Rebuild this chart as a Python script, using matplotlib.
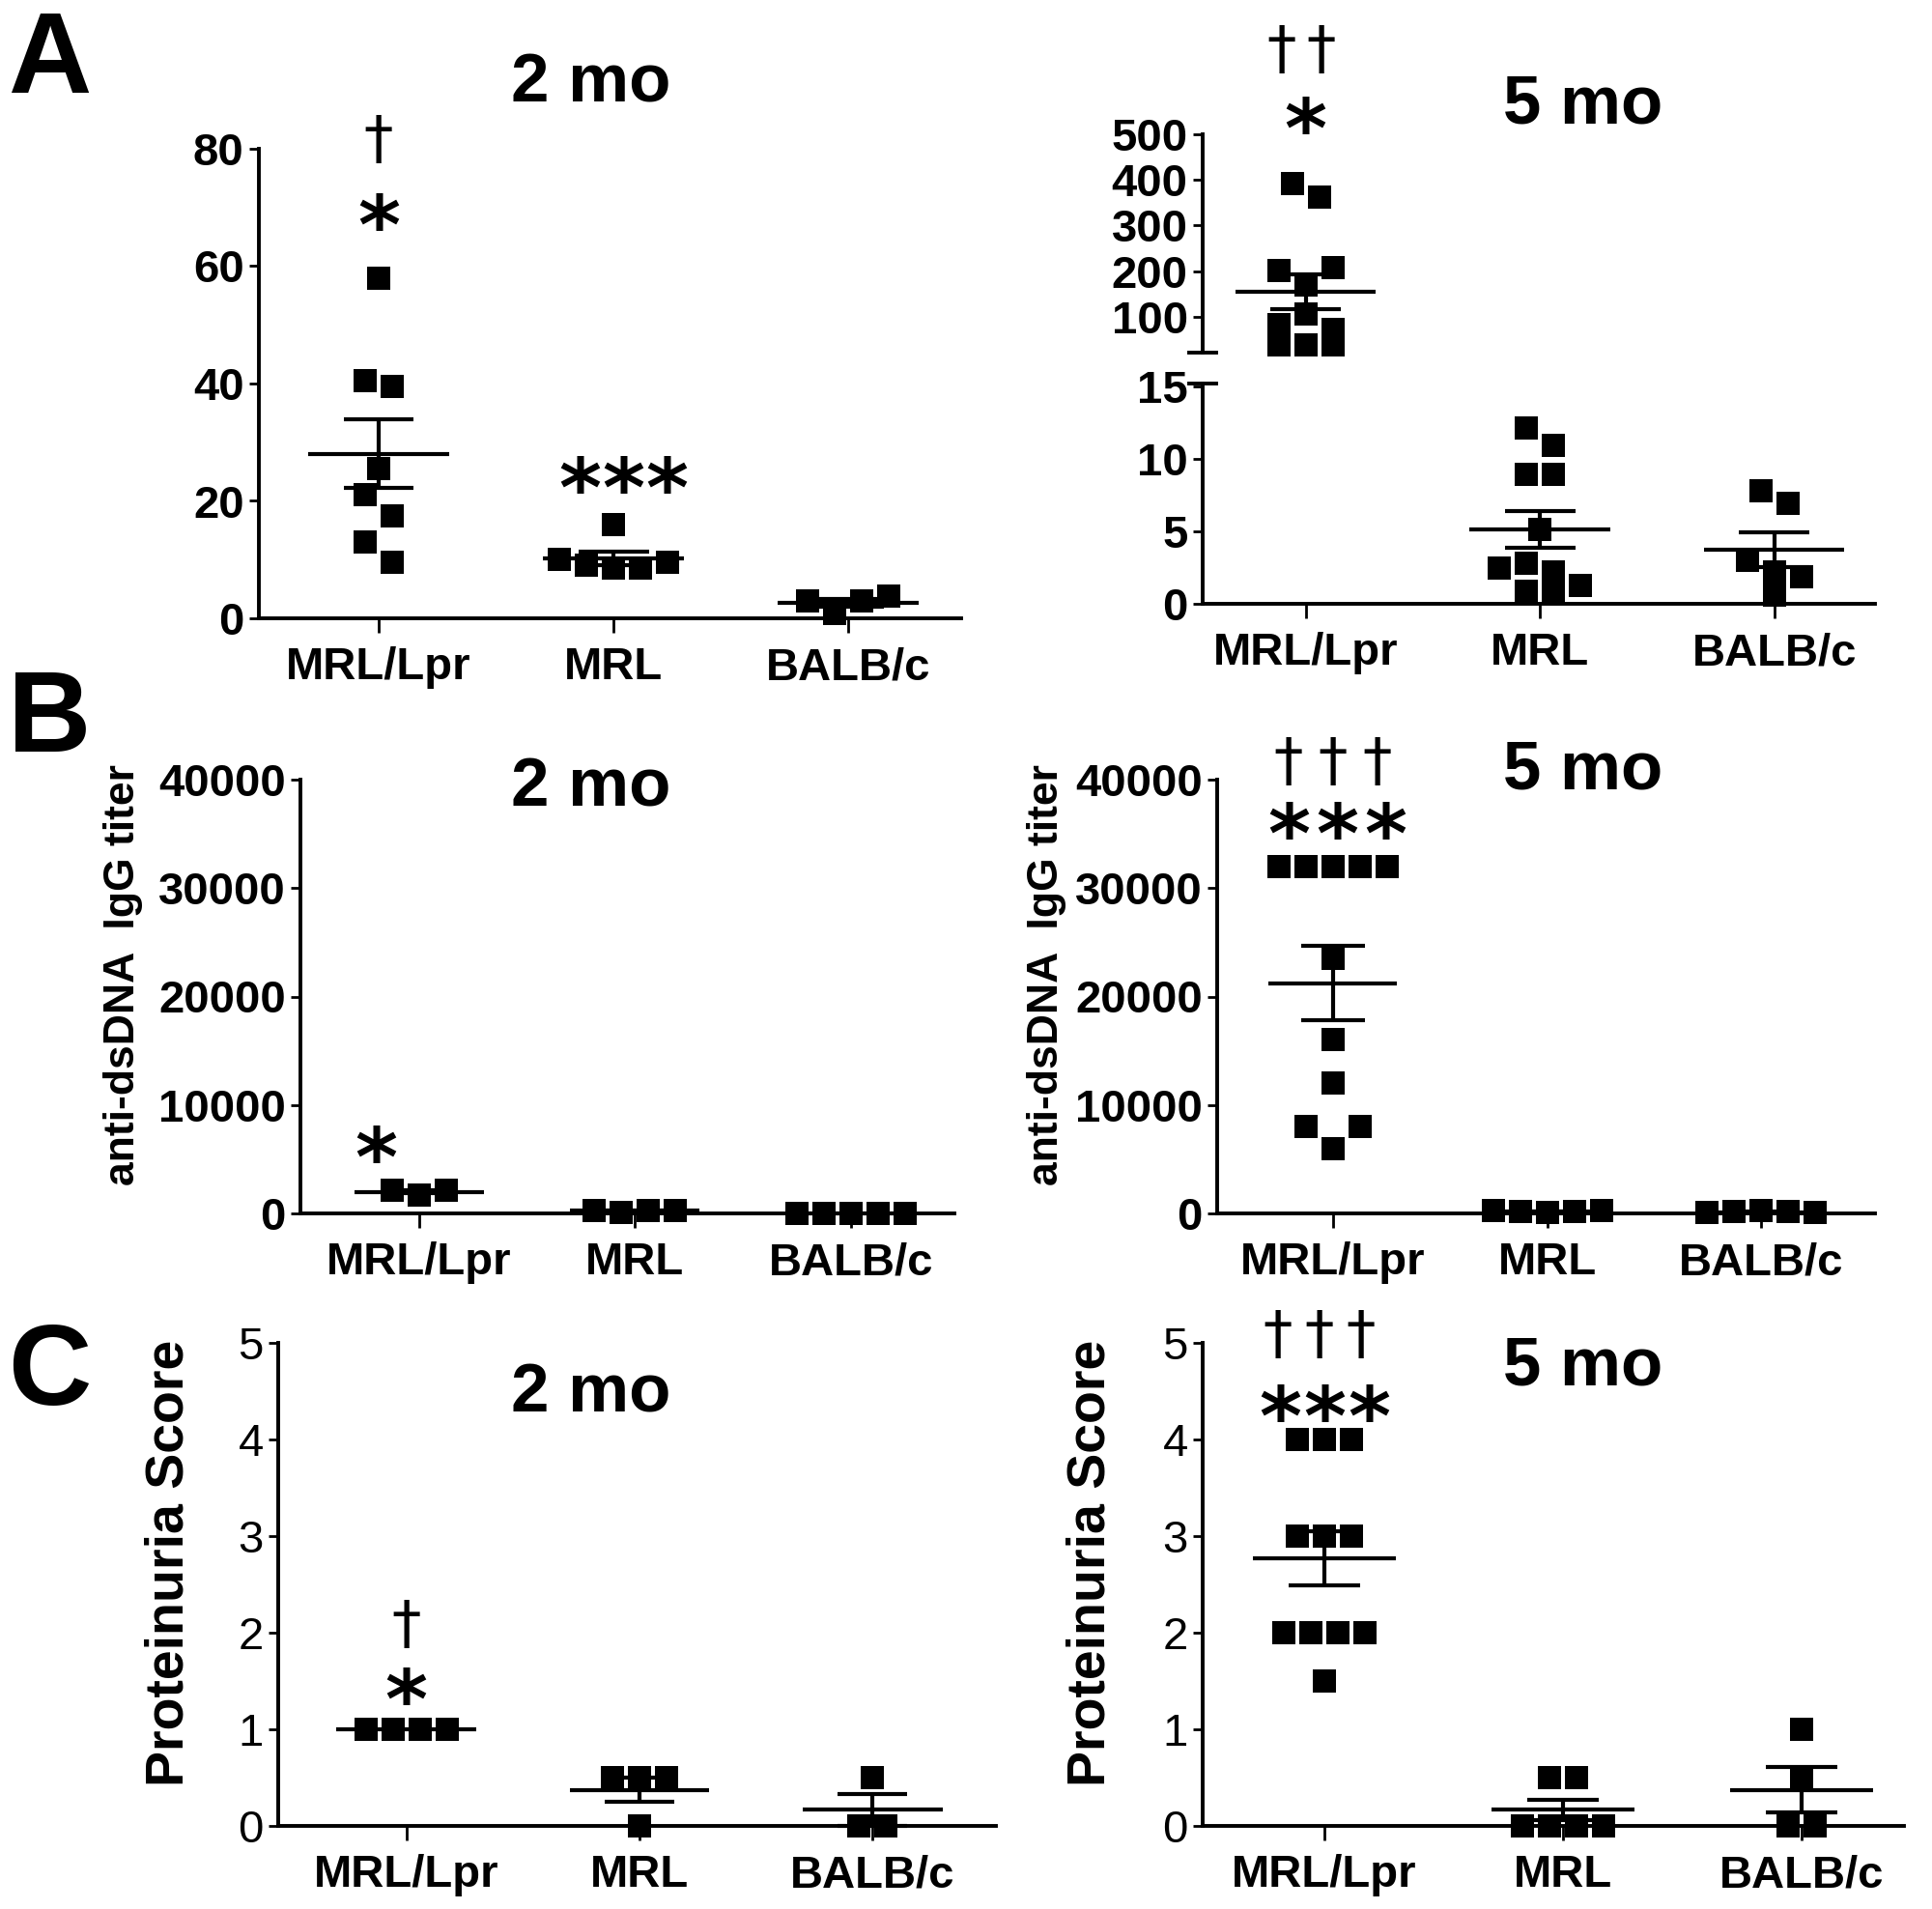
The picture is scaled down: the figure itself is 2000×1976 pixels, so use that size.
import numpy as np
import matplotlib
matplotlib.use("Agg")
import matplotlib.pyplot as plt
from matplotlib import transforms
from matplotlib.font_manager import FontProperties
from matplotlib.textpath import TextPath

W, H, DPI = 2000, 1976, 100

groups = ["MRL/Lpr", "MRL", "BALB/c"]

# A: 2 mo and 5 mo (5 mo MRL/Lpr sits on the upper part of a broken axis)
a2_lpr = [58, 40.5, 39.5, 25.5, 21, 17.5, 13, 9.5]
a2_mrl = [16, 10, 9, 8.5, 8.5, 9.5]
a2_balb = [3, 0.8, 3, 3.8]
a5_lpr = [391, 362, 202, 170, 207, 82, 106, 72, 38, 38, 38]
a5_mrl = [12.1, 10.9, 8.9, 8.9, 5.1, 2.5, 2.8, 2.2, 1.3, 0.9, 0.9]
a5_balb = [7.8, 6.9, 3.0, 2.2, 1.9, 0.6]

# B: anti-dsDNA IgG titer
b2_lpr = [2100, 1700, 2100]
b2_mrl = [300, 100, 250, 300]
b2_balb = [0, 0, 0, 0, 0]
b5_lpr = [32000, 32000, 32000, 32000, 32000, 23500, 16000, 12000, 8000, 6000, 8000]
b5_mrl = [250, 150, 50, 150, 250]
b5_balb = [50, 150, 250, 150, 50]

# C: proteinuria score
c2_lpr = [1, 1, 1, 1]
c2_mrl = [0.5, 0.5, 0.5, 0]
c2_balb = [0.5, 0, 0]
c5_lpr = [4, 4, 4, 3, 3, 3, 2, 2, 2, 2, 1.5]
c5_mrl = [0.5, 0.5, 0, 0, 0, 0]
c5_balb = [1, 0.5, 0, 0]

plt.rcParams["font.family"] = ["Liberation Sans", "DejaVu Sans"]
fig = plt.figure(figsize=(W / DPI, H / DPI), dpi=DPI)


def px_axes(l, t, r, b):
    return fig.add_axes([l / W, 1 - b / H, (r - l) / W, (b - t) / H])


def style(ax, xlim, ylim, yticks, ybold=True, xaxis=True):
    for s in ["top", "right"]:
        ax.spines[s].set_visible(False)
    ax.spines["left"].set_linewidth(2.8)
    ax.spines["bottom"].set_linewidth(2.8)
    ax.set_xlim(xlim)
    ax.set_ylim(ylim)
    ax.set_yticks(yticks, labels=[str(v) for v in yticks], fontsize=34,
                  fontweight="bold" if ybold else "normal")
    ax.tick_params(axis="y", length=7, width=2, pad=4)
    if xaxis:
        ax.set_xticks(range(3), labels=groups, fontsize=34, fontweight="bold")
        ax.tick_params(axis="x", length=11, width=2, pad=10)
    else:
        ax.spines["bottom"].set_visible(False)
        ax.set_xticks([])


def spread(ax, vals):
    # GraphPad-like: values that would overlap go into one centred row
    bb = ax.get_window_extent()
    x0, x1 = ax.get_xlim()
    y0, y1 = ax.get_ylim()
    step = 28 / (bb.width / (x1 - x0))
    tol = 24 / (bb.height / (y1 - y0))
    order = sorted(range(len(vals)), key=lambda i: -vals[i])
    rows = []
    for i in order:
        if rows and vals[rows[-1][0]] - vals[i] < tol:
            rows[-1].append(i)
        else:
            rows.append([i])
    dx = np.zeros(len(vals))
    for row in rows:
        row = sorted(row)
        for k, i in enumerate(row):
            dx[i] = (k - (len(row) - 1) / 2) * step
    return dx


def dots(ax, pos, vals):
    vals = np.asarray(vals, float)
    ax.plot(pos + spread(ax, list(vals)), vals, "s", ms=17.6, color="k",
            mew=0, clip_on=False, zorder=3)
    m = vals.mean()
    se = vals.std(ddof=1) / np.sqrt(len(vals))
    ax.hlines(m, pos - 0.3, pos + 0.3, color="k", lw=3, zorder=4, clip_on=False)
    if se > 0:
        ax.hlines([m - se, m + se], pos - 0.15, pos + 0.15, color="k", lw=3,
                  zorder=4, clip_on=False)
        ax.vlines(pos, m - se, m + se, color="k", lw=3, zorder=4, clip_on=False)


def mark(ax, x, y, ch, n=1, gap=46, ink=50, weight="normal"):
    fp = FontProperties(family="DejaVu Sans", weight=weight)
    ext = TextPath((0, 0), ch, size=1, prop=fp).get_extents()
    size = ink * 72 / DPI / ext.height
    fp.set_size(size)
    cx = (ext.x0 + ext.x1) / 2 * size
    cy = (ext.y0 + ext.y1) / 2 * size
    for k in range(n):
        dx = (k - (n - 1) / 2) * gap * 72 / DPI - cx
        tr = transforms.offset_copy(ax.transData, fig=fig, x=dx, y=-cy, units="points")
        ax.text(x, y, ch, transform=tr, fontproperties=fp, ha="left",
                va="baseline", clip_on=False)


def dagger(ax, x, y, n=1, gap=46):
    mark(ax, x, y, "\u2020", n, gap, ink=50)


def star(ax, x, y, n=1, gap=48):
    mark(ax, x, y, "*", n, gap, ink=39, weight="bold")


def title(x, y, s):
    fig.text(x / W, 1 - y / H, s, fontsize=51, fontweight="bold",
             ha="center", va="baseline")


def letter(y, s):
    fig.text(8 / W, 1 - y / H, s, fontsize=86, fontweight="bold",
             ha="left", va="baseline")


# ---- A, 2 mo
ax = px_axes(268, 154, 995, 640)
style(ax, (-0.51, 2.48), (0, 80), [0, 20, 40, 60, 80])
for i, v in enumerate([a2_lpr, a2_mrl, a2_balb]):
    dots(ax, i, v)
dagger(ax, 0, 81.6)
star(ax, 0, 69.3)
star(ax, 1.04, 24.5, n=3, gap=45)

# ---- A, 5 mo (broken axis)
ax_up = px_axes(1245, 139, 1941, 365)
style(ax_up, (-0.44, 2.43), (21, 500), [100, 200, 300, 400, 500], xaxis=False)
ax_lo = px_axes(1245, 397, 1941, 625)
style(ax_lo, (-0.44, 2.43), (0, 15.2), [0, 5, 10, 15])
dots(ax_up, 0, a5_lpr)
dots(ax_lo, 1, a5_mrl)
dots(ax_lo, 2, a5_balb)
ax_up.plot([-0.02, 0.02], [0, 0], transform=ax_up.transAxes, color="k", lw=2.8,
           clip_on=False)
ax_lo.plot([-0.02, 0.02], [1, 1], transform=ax_lo.transAxes, color="k", lw=2.8,
           clip_on=False)
dagger(ax_up, -0.02, 686, n=2, gap=41)
star(ax_up, 0, 542)

# ---- B
ax = px_axes(311, 807, 988, 1256)
style(ax, (-0.55, 2.48), (0, 40000), [0, 10000, 20000, 30000, 40000])
for i, v in enumerate([b2_lpr, b2_mrl, b2_balb]):
    dots(ax, i, v)
star(ax, -0.2, 6400)

ax = px_axes(1260, 807, 1941, 1256)
style(ax, (-0.54, 2.53), (0, 40000), [0, 10000, 20000, 30000, 40000])
for i, v in enumerate([b5_lpr, b5_mrl, b5_balb]):
    dots(ax, i, v)
dagger(ax, 0, 41700, n=3, gap=46)
star(ax, 0.02, 36200, n=3, gap=50)

# ---- C
ax = px_axes(288, 1390, 1031, 1890)
style(ax, (-0.55, 2.53), (0, 5), [0, 1, 2, 3, 4, 5], ybold=False)
for i, v in enumerate([c2_lpr, c2_mrl, c2_balb]):
    dots(ax, i, v)
dagger(ax, 0, 2.09)
star(ax, 0, 1.45)

ax = px_axes(1245, 1390, 1971, 1890)
style(ax, (-0.51, 2.43), (0, 5), [0, 1, 2, 3, 4, 5], ybold=False)
for i, v in enumerate([c5_lpr, c5_mrl, c5_balb]):
    dots(ax, i, v)
dagger(ax, -0.02, 5.09, n=3, gap=43)
star(ax, 0, 4.38, n=3, gap=46)

# ---- titles, axis labels, panel letters
title(612, 106, "2 mo")
title(1639, 128, "5 mo")
title(612, 834, "2 mo")
title(1639, 816, "5 mo")
title(612, 1462, "2 mo")
title(1639, 1434, "5 mo")

for x in (128, 1084):
    fig.text(x / W, 1 - 1009 / H, "anti-dsDNA  IgG titer", rotation=90,
             fontsize=32, fontweight="bold", ha="center", va="center")
for x in (175, 1129):
    fig.text(x / W, 1 - 1618 / H, "Proteinuria Score", rotation=90,
             fontsize=40, fontweight="bold", ha="center", va="center")

letter(96, "A")
letter(778, "B")
letter(1454, "C")

fig.savefig("out.png", dpi=DPI)
